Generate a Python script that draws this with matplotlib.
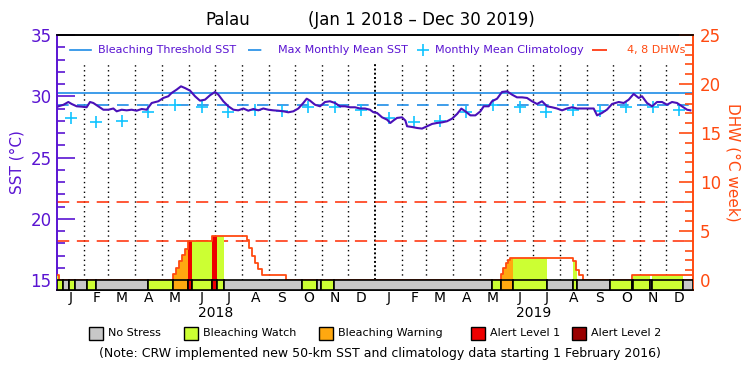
import numpy as np
import matplotlib.pyplot as plt
from matplotlib.patches import Rectangle
from matplotlib.lines import Line2D
from matplotlib.transforms import blended_transform_factory

# days counted from 1 Jan 2018
sst_day = [0, 1.5, 7.3, 13.0, 16.8, 22.6, 28.3, 34.0, 37.9, 41.7, 47.4, 53.2, 58.9, 64.7, 68.5,
           74.2, 80.0, 85.7, 91.4, 97.2, 102.9, 108.7, 116.3, 122.0, 127.8, 131.6, 137.3, 142.3,
           146.9, 152.7, 158.4, 164.1, 169.9, 175.6, 181.4, 185.2, 190.9, 196.7, 202.4, 208.1,
           213.9, 219.6, 225.3, 231.1, 236.8, 242.6, 248.3, 254.0, 259.8, 265.5, 271.3, 277.0,
           282.7, 286.6, 290.4, 296.1, 301.9, 307.6, 313.3, 319.1, 324.8, 330.6, 336.3, 342.0,
           347.8, 353.5, 359.3, 363.0, 367.3, 373.1, 378.8, 382.6, 386.5, 390.3, 396.0, 399.9,
           401.8, 407.5, 413.3, 419.0, 424.7, 430.5, 436.2, 442.0, 447.7, 453.4, 459.2, 464.1,
           468.7, 474.5, 480.2, 486.0, 489.8, 495.5, 499.3, 505.1, 510.8, 516.6, 522.3, 528.0,
           533.8, 539.5, 545.2, 551.0, 556.7, 562.5, 568.2, 573.9, 579.7, 585.4, 591.2, 596.9,
           602.6, 608.4, 616.0, 619.9, 625.6, 631.3, 637.1, 644.7, 650.5, 656.2, 661.9, 667.7,
           671.5, 677.2, 683.0, 688.7, 694.5, 700.2, 705.9, 711.7, 717.4, 723.2, 727.0]
sst_val = [29.1, 29.18, 29.3, 29.53, 29.37, 29.18, 29.15, 29.1, 29.53, 29.45, 29.18, 28.9, 28.9,
           29.0, 28.77, 28.9, 28.85, 28.9, 28.82, 28.96, 28.9, 29.45, 29.59, 29.86, 30.0, 30.27,
           30.54, 30.81, 30.67, 30.46, 30.0, 29.64, 29.72, 30.08, 30.35, 30.13, 29.59, 29.18,
           28.9, 28.85, 29.0, 28.82, 28.96, 28.85, 29.0, 28.9, 28.85, 28.82, 28.77, 28.69, 28.77,
           29.0, 29.45, 29.8, 29.64, 29.31, 29.18, 29.53, 29.59, 29.45, 29.18, 29.18, 29.1, 29.1,
           29.0, 29.0, 28.9, 28.7, 28.64, 28.28, 28.09, 27.82, 28.04, 28.23, 28.28, 28.01, 27.55,
           27.49, 27.41, 27.36, 27.55, 27.74, 27.82, 27.87, 27.96, 28.17, 28.55, 28.99, 28.77,
           28.44, 28.44, 28.77, 29.18, 29.18, 29.59, 29.8, 30.35, 30.4, 30.13, 29.91, 29.91,
           29.86, 29.59, 29.37, 29.59, 29.18, 29.1, 29.0, 28.85, 29.0, 29.1, 29.0, 29.0, 29.0,
           29.0, 28.44, 28.64, 28.91, 29.37, 29.53, 29.45, 29.72, 30.19, 29.86, 30.0, 29.45,
           29.18, 29.53, 29.53, 29.31, 29.53, 29.45, 29.18, 28.9, 28.85]

clim_val = [28.23, 27.9, 27.96, 28.69, 29.26, 29.1, 28.72, 28.85, 28.82, 29.1, 29.1, 28.85]
mmm = 29.25
threshold = 30.25

dhw_day = [0, 2.6, 133.5, 137.0, 140.4, 143.1, 146.9, 150.7, 178.3, 217.7, 220.7, 223.5, 227.3,
           231.1, 235.0, 262.9, 509.3, 512.3, 515.4, 518.0, 520.0, 592.6, 595.7, 599.2, 604.1,
           660.4, 730]
dhw_val = [0.5, 0, 0.6, 1.2, 1.9, 2.55, 3.2, 4.0, 4.5, 4.1, 3.3, 2.45, 1.7, 1.1, 0.5, 0, 0.6,
           1.2, 1.7, 2.0, 2.2, 1.9, 1.0, 0.5, 0, 0.5, 0.5]
dhw_lines = [4, 8]

# 0 no stress, 1 watch, 2 warning, 3 alert 1, 4 alert 2
stress_day = [0, 7.2, 14.1, 21, 34.8, 44.8, 104.8, 133.5, 150.7, 154.6, 178.3, 183.3, 191.7,
              280.9, 298, 302.7, 318.3, 499, 509.3, 523.1, 562.1, 592.6, 596.5, 634.8, 660.4,
              661.5, 680.7, 683, 718.5, 730]
stress_level = [1, 0, 1, 0, 1, 0, 1, 2, 3, 1, 3, 1, 0, 1, 0, 1, 0, 1, 2, 1, 0, 1, 0, 1, 0, 1, 0,
                1, 0]

level_names = ['No Stress', 'Bleaching Watch', 'Bleaching Warning', 'Alert Level 1', 'Alert Level 2']
level_colors = ['#c8c8c8', '#ccff33', '#ffa810', '#ee0000', '#990000']
month_letters = ['J', 'F', 'M', 'A', 'M', 'J', 'J', 'A', 'S', 'O', 'N', 'D']
years = ['2018', '2019']

purple = '#5a14d2'
sst_color = '#4a10b8'
blue = '#1e8ce6'
cyan = '#10c4ff'
dhw_color = '#ff4a10'
red_dash = '#ff2a00'

W, H = 750, 375
def fx(x):
    return x / W
def fy(y):
    return 1 - y / H

fig = plt.figure(figsize=(7.5, 3.75), dpi=100)
ax = fig.add_axes([fx(57), fy(290), 636 / W, 255 / H])
ax2 = ax.twinx()

# month positions
months = np.arange('2018-01', '2020-02', dtype='datetime64[M]')
m_start = (months.astype('datetime64[D]') - np.datetime64('2018-01-01')).astype(int)
m_mid = (m_start[:-1] + m_start[1:]) / 2.0

# SST axis
ax.set_xlim(0, 730)
ax.set_ylim(15 - 10 / 12.25, 35)
for d in m_start[1:-1]:
    if d == 365:
        ax.plot([d, d], [15, 32.7], color='black', lw=1.4, ls=(0, (1, 1.2)), zorder=1)
    else:
        ax.plot([d, d], [15, 32.7], color='black', lw=1.0, ls=(0, (1, 2.5)), zorder=1)
ax.axhline(threshold, color=blue, lw=1.2, zorder=2)
ax.axhline(mmm, color=blue, lw=1.2, ls=(0, (7, 5)), zorder=2)
ax.plot(m_mid, np.tile(clim_val, 2), ls='none', marker='+', ms=8, mew=1.2, color=cyan, zorder=3)
ax.plot(sst_day, sst_val, color=sst_color, lw=1.5, zorder=4)

ax.set_yticks([15, 20, 25, 30, 35])
ax.set_yticks(np.arange(16, 35, 1), minor=True)
ax.set_xticks([])
ax.tick_params(axis='y', which='major', direction='in', length=13, width=1.2, color=purple,
               labelcolor=purple, labelsize=12, pad=4)
ax.tick_params(axis='y', which='minor', direction='in', length=6, width=1.2, color=purple)
ax.set_ylabel('SST (°C)', color=purple, fontsize=11, labelpad=4)

# DHW axis
ax2.set_ylim(-10 / 9.8, 25)
ax2.set_xlim(0, 730)
for v in dhw_lines:
    ax2.axhline(v, color=red_dash, lw=1.1, ls=(0, (8, 5)), zorder=2)

dd = np.array(dhw_day)
dv = np.array(dhw_val)
def dhw_at(t):
    return dv[np.searchsorted(dd, t, side='right') - 1]

for i, lev in enumerate(stress_level):
    a, b = stress_day[i], stress_day[i + 1]
    if lev > 0:
        xs = [a] + [d for d in dhw_day if a < d < b] + [b]
        ys = [dhw_at(x) for x in xs]
        ax2.fill_between(xs, 0, ys, step='post', color=level_colors[lev], lw=0, zorder=3)
ax2.step(dhw_day, dhw_val, where='post', color=dhw_color, lw=1.3, zorder=4)

for i, lev in enumerate(stress_level):
    a, b = stress_day[i], stress_day[i + 1]
    ax2.add_patch(Rectangle((a, -10 / 9.8), b - a, 10 / 9.8, facecolor=level_colors[lev],
                            edgecolor='black', lw=1.2, zorder=5))

ax2.set_yticks([0, 5, 10, 15, 20, 25])
ax2.set_yticks(np.arange(1, 25, 1), minor=True)
ax2.tick_params(axis='y', which='major', direction='in', length=10, width=1.2, color=dhw_color,
                labelcolor=dhw_color, labelsize=12, pad=5)
ax2.tick_params(axis='y', which='minor', direction='in', length=6, width=1.2, color=dhw_color)
ax2.set_ylabel('DHW (°C week)', color=dhw_color, fontsize=11, rotation=-90, labelpad=14)

for a_ in (ax, ax2):
    a_.spines['left'].set_color(purple)
    a_.spines['right'].set_color(dhw_color)
    a_.spines['top'].set_color('black')
    a_.spines['bottom'].set_color('black')
    for s in a_.spines.values():
        s.set_linewidth(1.2)

# month and year labels
tr = blended_transform_factory(ax.transData, fig.transFigure)
for i, m in enumerate(m_mid):
    ax.text(m, fy(298), month_letters[i % 12], transform=tr, ha='center', va='center',
            fontsize=10, clip_on=False)
for j, yr in enumerate(years):
    ax.text(182.5 + 365 * j, fy(313), yr, transform=tr, ha='center', va='center',
            fontsize=10, clip_on=False)

# title
fig.text(fx(228), fy(20), 'Palau', ha='center', va='center', fontsize=12)
fig.text(fx(421), fy(20), '(Jan 1 2018 – Dec 30 2019)', ha='center', va='center', fontsize=12)

# top legend
ly = fy(50)
fig.add_artist(Line2D([fx(70), fx(91)], [ly, ly], color=blue, lw=1.2, transform=fig.transFigure))
fig.text(fx(98), ly, 'Bleaching Threshold SST', color=purple, fontsize=8, va='center')
fig.add_artist(Line2D([fx(248), fx(272)], [ly, ly], color=blue, lw=1.2, ls=(0, (8, 8)),
                      transform=fig.transFigure))
fig.text(fx(278), ly, 'Max Monthly Mean SST', color=purple, fontsize=8, va='center')
fig.add_artist(Line2D([fx(423)], [ly], color=cyan, marker='+', ms=8, mew=1.2, ls='none',
                      transform=fig.transFigure))
fig.text(fx(435), ly, 'Monthly Mean Climatology', color=purple, fontsize=8, va='center')
fig.add_artist(Line2D([fx(592), fx(620)], [ly, ly], color=red_dash, lw=1.2, ls=(0, (9, 10)),
                      transform=fig.transFigure))
fig.text(fx(627), ly, '4, 8 DHWs', color=dhw_color, fontsize=8, va='center')

# stress legend
box_x = [89, 184, 319, 471, 572]
for i, name in enumerate(level_names):
    fig.add_artist(Rectangle((fx(box_x[i]), fy(340)), 14 / W, 13 / H, facecolor=level_colors[i],
                             edgecolor='black', lw=1, transform=fig.transFigure))
    fig.text(fx(box_x[i] + 19), fy(333.5), name, fontsize=8, va='center')
fig.text(fx(380), fy(354), '(Note: CRW implemented new 50-km SST and climatology data starting 1 February 2016)',
         ha='center', va='center', fontsize=9)

fig.savefig('out.png', dpi=100)
